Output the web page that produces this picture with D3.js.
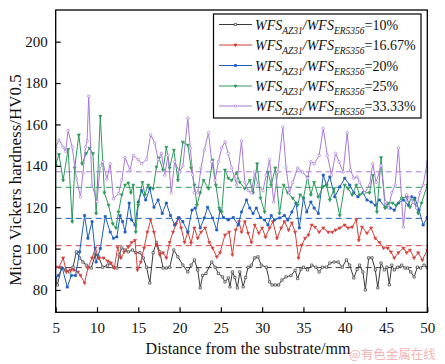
<!DOCTYPE html>
<html><head><meta charset="utf-8">
<script src="https://cdn.jsdelivr.net/npm/d3@7"></script>
<style>body{margin:0;background:#fff}svg{display:block}</style>
</head><body><svg id="c" width="445" height="364"></svg>
<script>
// ---- data ----
const seriesNames = ["10%", "16.67%", "20%", "25%", "33.33%"];
const meanValues = [90.8, 101.4, 114.6, 129.6, 137.1];
const xTicks = [5,10,15,20,25,30,35,40,45,50];
const yTicks = [80,100,120,140,160,180,200];

const blackX = [5.0,5.2,5.7,6.2,6.7,7.1,7.5,7.9,8.3,8.7,9.3,9.8,10.2,10.7,11.3,11.6,12.0,12.4,12.7,13.0,13.4,13.8,14.3,14.7,15.2,15.6,16.0,16.4,16.8,17.2,17.6,18.0,18.4,18.8,19.3,19.8,20.4,21.0,21.4,21.8,22.2,22.5,22.8,23.2,23.9,24.3,24.7,25.2,25.5,25.9,26.1,26.4,26.7,27.0,27.3,27.7,28.0,28.3,28.7,29.1,29.5,29.9,30.5,30.9,31.2,31.6,32.0,32.4,32.9,33.5,34.0,34.3,34.7,35.0,35.5,36.0,36.5,36.9,37.3,37.8,38.2,38.7,39.2,39.7,40.2,40.6,41.1,41.5,41.8,42.2,42.5,42.9,43.3,43.7,44.0,44.4,44.8,45.1,45.4,45.7,46.0,46.4,46.9,47.3,47.6,48.0,48.4,48.8,49.2,49.6,50.0];
const blackY = [84.8,82.4,90.6,89.7,88.7,91,98.4,95.5,93.5,92,90.6,97,96,91,92,93,91,90.6,97,100.3,99.3,98.4,99.3,98,98,95.5,91,83.4,98,103,98.4,90.6,90.6,91,99.3,96,92,88.7,92,94.5,89.7,81,87,88,93.5,91,88,86.3,83.9,85.8,81.5,88.7,86,81,88.7,81.5,86,91,92,95.5,96,92,91,83.9,82.4,82.4,82.4,84.8,86.3,87,89.5,85.5,90,91,89.7,92,91,88.7,91,91,93,93.5,93.5,91,94.5,92,85.8,90,92,88.7,80,95.5,95.5,89.7,81,93,89.7,91,82.5,92,89.7,91,92,90.6,90.6,88.7,86.3,91,90.6,92,91];

const redX = [5.0,5.4,5.9,6.3,6.8,7.2,7.7,8.0,8.5,8.9,9.4,9.8,10.2,10.8,11.3,11.7,12.1,12.5,12.9,13.3,13.8,14.2,14.6,14.9,15.3,15.7,16.1,16.5,16.9,17.2,17.6,18.0,18.4,18.8,19.2,19.6,19.9,20.2,20.6,21.0,21.4,21.8,22.2,22.6,23.1,23.6,24.0,24.5,24.9,25.5,26.0,26.4,26.8,27.2,27.5,27.9,28.3,28.7,29.1,29.6,30.0,30.4,30.9,31.3,31.8,32.3,32.7,33.2,33.6,34.0,34.4,34.8,35.2,35.6,36.0,36.4,36.9,37.4,38.0,38.5,38.9,39.4,40.0,40.4,40.9,41.4,41.7,42.1,42.7,43.2,43.7,44.2,44.7,45.2,45.6,46.0,46.5,47.1,47.5,47.9,48.4,48.9,49.4,50.0];
const redY = [91,91,95.5,88.7,89.7,89.7,88.7,87,83.4,90.6,95.5,100.3,95.5,95.5,94,93,90.6,100.5,95.5,98.4,100.8,103,104,89.7,93.5,100.3,108,113.8,108,101.7,97,98,95.5,103,108,112,114.8,110,103,108,102.7,110,105,108,110,103,100.3,96,98,106.6,108,97,109,113,108,113,107.5,103,111.4,107.5,110,105.6,110,113,105,110,113,109,112.4,108,95.5,101.7,105,106.6,111.4,110.4,108,110,108,108,109,110,111.4,110,110.4,114,104,110.4,107.5,110,105,103,100.3,100.3,98.4,95.5,98,100.3,98,99.3,95.5,98,94.5,99.3];

const blueX = [5.0,5.3,5.8,6.4,6.9,7.4,7.9,8.5,8.9,9.4,9.9,10.4,11.0,11.6,12.0,12.4,12.8,13.1,13.4,13.9,14.2,14.6,15.0,15.4,15.9,16.4,16.9,17.4,17.9,18.4,18.9,19.4,19.9,20.4,21.0,21.5,21.9,22.5,23.0,23.4,24.0,24.5,24.9,25.3,25.9,26.5,27.1,27.5,28.1,28.5,28.9,29.3,29.8,30.3,30.7,31.1,31.5,32.1,32.7,33.1,33.6,34.1,34.5,35.0,35.4,35.9,36.3,36.8,37.4,37.8,38.2,38.8,39.4,40.0,40.6,41.1,41.6,42.2,42.7,43.2,43.7,44.2,44.9,45.5,46.0,46.5,47.1,47.7,48.1,48.5,49.0,49.5,50.0];
const blueY = [85.8,87,90.6,81.4,87,87,98.4,116,105,113,93.5,100,115.5,108,105,105.6,116,113,108,122,113.8,111.4,122.5,128,123.5,129,120,123.5,117,122,116,111.4,115,113,108,118.6,119.6,110,114.8,120,114.8,109,118.6,115,113.8,115,111.4,117.7,123.5,119.6,117,119.6,115,113.8,111.4,116,113.8,114.8,116,113.8,117.7,122,110,124.4,117.7,122.5,119.6,117,135.5,130.7,134.6,125,129.8,134,130.7,127,125,127,123.5,122.5,121,123.5,120,119.6,118.6,122,123.5,121,125,124.4,118.6,111.4,115];

const greenX = [5.0,5.4,5.9,6.5,7.0,7.3,7.8,8.2,8.7,9.1,9.5,9.9,10.4,10.9,11.4,11.9,12.3,12.6,13.0,13.4,13.8,14.1,14.4,14.7,15.0,15.5,15.8,16.2,16.8,17.2,17.5,18.0,18.4,18.8,19.3,19.8,20.4,21.0,21.4,21.8,22.1,22.5,22.9,23.5,24.0,24.4,24.8,25.1,25.5,25.9,26.3,26.9,27.3,27.9,28.5,28.9,29.4,29.8,30.3,30.7,31.1,31.6,32.1,32.6,33.1,33.7,34.3,34.6,35.0,35.5,35.9,36.3,36.8,37.4,37.8,38.2,38.7,39.4,40.0,40.4,40.9,41.4,41.8,42.4,43.0,43.4,43.9,44.4,44.9,45.3,45.8,46.2,46.9,47.5,47.9,48.4,48.9,49.3,50.0];
const greenY = [140.5,145.5,133,148,113,139,155,141,146,148.6,146,117,164,127,121,112,110,117.7,126,130.7,131.7,127,130.7,108,121,132,126,130.7,129,139.4,143.8,138,149,139,147.6,133,151.5,150,139,130.7,121,127,133,129,142.8,130.7,119.6,117.7,138,134,133,136.5,132,129,133,127,141,124.4,117.7,137,130.7,139,117,130.7,127,124.4,121,126,124.4,134.6,126,132,125,130,130.7,123.5,129,116,130.7,129,126,130.7,126,127,127,135.5,117.7,144,119.6,122,122,121,124.4,125,120,123.5,117,122,130.7];

const purpleX = [5.0,5.4,5.9,6.2,6.5,7.0,7.5,8.0,8.3,8.6,8.8,9.0,9.4,10.0,10.4,10.7,11.2,11.6,12.0,12.6,13.0,13.4,14.0,14.4,15.0,15.4,16.0,16.5,17.0,17.4,17.8,18.2,18.6,19.0,19.4,20.0,20.4,21.0,21.3,21.6,21.8,22.2,22.6,23.0,23.5,23.9,24.3,24.7,25.1,25.5,25.9,26.3,26.7,26.9,27.5,27.9,28.3,28.7,29.1,29.5,30.1,30.5,30.9,31.4,31.9,32.5,32.9,33.3,33.7,34.3,34.9,35.5,35.9,36.3,36.9,37.4,37.9,38.4,38.9,39.3,39.8,40.3,40.7,41.1,41.5,41.8,42.4,43.0,43.4,43.8,44.4,44.9,45.3,45.7,46.1,46.5,47.1,47.5,47.9,48.3,48.7,49.1,49.5,50.0];
const purpleY = [149,152.5,149,147,157,149,134,125,136.5,149,152,173.7,130.7,122.7,140,142,133.6,141,124,126.5,133,144,138,145,143,141,143,155,151,143,146,135.5,145,127,142,137,140,163,148.6,135.5,127,127,139,147.6,156,142,133,142,148.6,151.5,146,139,134,130.7,152,132,128,127,137,130.7,128,135.5,143,122.5,137,158.7,139,127,132,139,137,134,142,141,145,158,145,135.5,146,142,137,156,138,134,134.6,132,127,130.7,141,132,140,122.5,119.6,127,130.7,148.6,110.4,126,124.4,122.5,119.6,127,130.7,142];

const seriesX = [blackX, redX, blueX, greenX, purpleX];
const seriesY = [blackY, redY, blueY, greenY, purpleY];
const colors = ["#3a3a3a", "#d8403c", "#1f5fc0", "#2e9a5c", "#a87ad8"];
const markerTypes = ["square", "tridown", "square", "tridown", "circle"];
const markerFilled = [false, true, true, true, false];

// ---- drawing ----
const svg = d3.select("#c");
const L = 55.7, R = 427.3, T = 10, B = 312.3;
const x = d3.scaleLinear().domain([5, 50]).range([L, R]);
const y = d3.scaleLinear().domain([69.2, 215.3]).range([B, T]);
const serif = "'Liberation Serif','Times New Roman',serif";

const plot = svg.append("g");
plot.append("defs").append("clipPath").attr("id","clip")
  .append("rect").attr("x",L).attr("y",T).attr("width",R-L).attr("height",B-T);

// dashed mean lines
meanValues.forEach((m,i)=>{
  plot.append("line").attr("x1",L).attr("x2",R).attr("y1",y(m)).attr("y2",y(m))
    .attr("stroke",colors[i]).attr("stroke-width",1).attr("stroke-dasharray","6,4");
});

function markerPath(type, size){
  if(type==="square") return d3.symbol(d3.symbolSquare, size)();
  if(type==="circle") return d3.symbol(d3.symbolCircle, size)();
  return d3.symbol(d3.symbolTriangle, size)();
}
const mSize = [5, 4, 4.5, 4, 5];

const line = d3.line().x(d=>x(d[0])).y(d=>y(d[1]));
const g = plot.append("g").attr("clip-path","url(#clip)");
seriesX.forEach((xs,i)=>{
  const pts = xs.map((v,j)=>[v, seriesY[i][j]]);
  g.append("path").datum(pts).attr("d",line).attr("fill","none")
    .attr("stroke",colors[i]).attr("stroke-width",1);
  g.selectAll(null).data(pts).enter().append("path")
    .attr("d", markerPath(markerTypes[i], mSize[i]))
    .attr("transform", d=>`translate(${x(d[0])},${y(d[1])})${markerTypes[i]==="tridown"?" rotate(180)":""}`)
    .attr("fill", markerFilled[i]?colors[i]:"#fff")
    .attr("stroke", colors[i]).attr("stroke-width", 0.7);
});

// frame
svg.append("rect").attr("x",L).attr("y",T).attr("width",R-L).attr("height",B-T)
  .attr("fill","none").attr("stroke","#000").attr("stroke-width",1.3);

// axes (inward ticks)
const xAxis = d3.axisBottom(x).tickValues(xTicks).tickSizeInner(-5).tickSizeOuter(0).tickPadding(10);
const gx = svg.append("g").attr("transform",`translate(0,${B})`).call(xAxis);
const yAxis = d3.axisLeft(y).tickValues(yTicks).tickSizeInner(-5).tickSizeOuter(0).tickPadding(8);
const gy = svg.append("g").attr("transform",`translate(${L},0)`).call(yAxis);
[gx,gy].forEach(a=>{
  a.select(".domain").remove();
  a.selectAll(".tick line").attr("stroke","#000").attr("stroke-width",1.2);
  a.selectAll("text").attr("font-family",serif).attr("font-size",15).attr("fill","#111");
});

// axis titles
svg.append("text").attr("x",248).attr("y",354).attr("text-anchor","middle")
  .attr("font-family",serif).attr("font-size",16).attr("fill","#111")
  .text("Distance from the substrate/mm");
svg.append("text").attr("transform","translate(21,180) rotate(-90)").attr("text-anchor","middle")
  .attr("font-family",serif).attr("font-size",17).attr("fill","#111")
  .text("Micro Vickers hardness/HV0.5");

// legend
const lg = svg.append("g");
lg.append("rect").attr("x",213.5).attr("y",14).attr("width",207.5).attr("height",104)
  .attr("fill","#fff").attr("stroke","#000").attr("stroke-width",1.2);
const rowY = [24.5, 45, 65.5, 86, 106];
seriesNames.forEach((nm,i)=>{
  const ry = rowY[i];
  lg.append("line").attr("x1",219).attr("x2",252).attr("y1",ry).attr("y2",ry)
    .attr("stroke",colors[i]).attr("stroke-width",1);
  lg.append("path").attr("d",markerPath(markerTypes[i],mSize[i]))
    .attr("transform",`translate(235.5,${ry})${markerTypes[i]==="tridown"?" rotate(180)":""}`)
    .attr("fill",markerFilled[i]?colors[i]:"#fff").attr("stroke",colors[i]).attr("stroke-width",0.7);
  const t = lg.append("text").attr("x",255).attr("y",ry+5)
    .attr("font-family",serif).attr("font-size",14).attr("fill","#111");
  t.append("tspan").attr("font-style","italic").text("WFS");
  t.append("tspan").attr("font-style","italic").attr("font-size",9.5).attr("dy",4).text("AZ31");
  t.append("tspan").attr("font-style","italic").attr("dy",-4).text("/WFS");
  t.append("tspan").attr("font-style","italic").attr("font-size",9.5).attr("dy",4).text("ER5356");
  t.append("tspan").attr("dy",-4).text("=" + nm);
});

// watermark
svg.append("text").attr("x",349).attr("y",359)
  .attr("font-family","'Noto Sans CJK SC',sans-serif").attr("font-size",12.5)
  .attr("fill","#f0a8a8").attr("opacity",0.85).text("@有色金属在线");
</script>
</body></html>
